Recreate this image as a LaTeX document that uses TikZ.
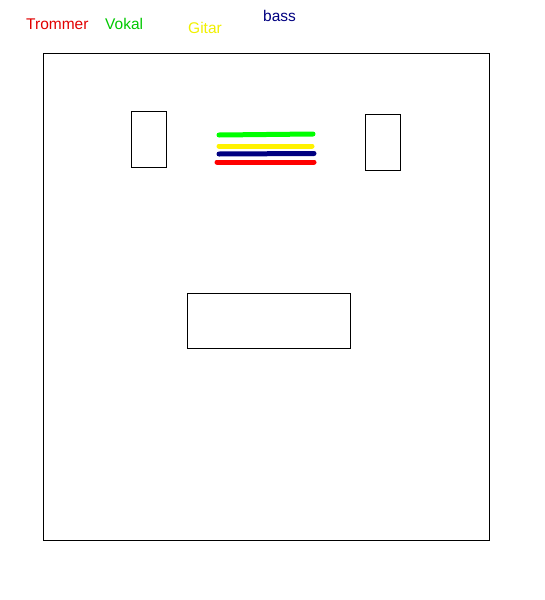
\documentclass[tikz,border=0pt]{standalone}
\usepackage{xcolor}
\usepackage{fontspec}
\setmainfont{Liberation Sans}
\definecolor{trommred}{RGB}{225,0,0}
\definecolor{vokalgreen}{RGB}{0,200,0}
\definecolor{gitaryellow}{RGB}{240,240,0}
\definecolor{bassnavy}{RGB}{0,0,128}

\begin{document}
\begin{tikzpicture}[x=1pt,y=-1pt]
  \tikzset{label/.style={inner sep=0pt,anchor=west,font=\fontsize{15.5}{18}\selectfont},
    wire/.style={line width=5pt,line cap=round}}
  \useasboundingbox (0,0) rectangle (544,600);

  \node[label,text=trommred] (trommer) at (26,24) {Trommer};
  \node[label,text=vokalgreen] (vokal) at (105,24) {Vokal};
  \node[label,text=gitaryellow] (gitar) at (188,28) {Gitar};
  \node[label,text=bassnavy] (bass) at (263,16) {bass};

  \draw[thick] (43,53) rectangle (489,540);
  \draw[thick] (131,111) rectangle (166,167);
  \draw[thick] (365,114) rectangle (400,170);
  \draw[thick] (187,293) rectangle (350,348);

  \draw[wire,green] (219,135) -- (313,134);
  \draw[wire,yellow] (219,146) -- (312,146);
  \draw[wire,bassnavy] (219,154) -- (314,153.5);
  \draw[wire,red] (217,162) -- (314,162);
\end{tikzpicture}
\end{document}
